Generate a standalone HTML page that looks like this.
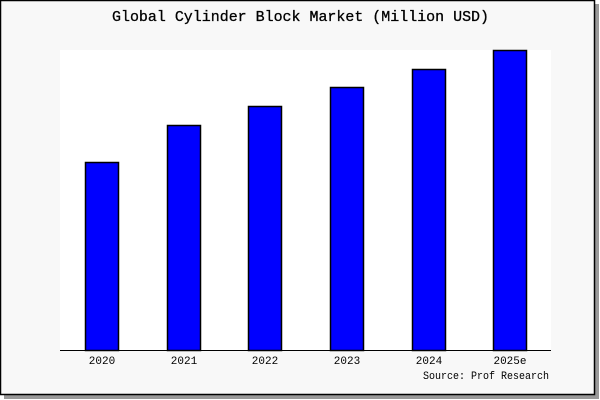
<!DOCTYPE html>
<html><head><style>
body{margin:0;background:#fff;}
svg{display:block;}
</style></head><body>
<svg width="600" height="400" xmlns="http://www.w3.org/2000/svg">
<rect x="0" y="0" width="600" height="400" fill="#fff"/>
<rect x="4" y="4" width="595" height="395" fill="#999"/>
<rect x="0.5" y="0.5" width="594" height="394" fill="#f8f8f8" stroke="#000" stroke-width="1.5"/>
<rect x="60" y="50" width="491" height="300" fill="#fff"/>
<text x="112" y="21" textLength="377" lengthAdjust="spacingAndGlyphs" font-family="Liberation Mono, monospace" font-size="15" fill="#000" stroke="#000" stroke-width="0.3">Global Cylinder Block Market (Million USD)</text>
<g fill="#0000ff" stroke="#000" stroke-width="1.5">
<rect x="85.5" y="162.5" width="33" height="188"/>
<rect x="167.5" y="125.5" width="33" height="225"/>
<rect x="248.5" y="106.5" width="33" height="244"/>
<rect x="330.5" y="87.5" width="33" height="263"/>
<rect x="412.5" y="69.5" width="33" height="281"/>
<rect x="493.5" y="50.5" width="33" height="300"/>
</g>
<line x1="60" y1="350.5" x2="551" y2="350.5" stroke="#000" stroke-width="1"/>
<g font-family="Liberation Mono, monospace" font-size="11" fill="#000" text-anchor="middle">
<text x="102" y="364">2020</text>
<text x="184" y="364">2021</text>
<text x="265" y="364">2022</text>
<text x="347" y="364">2023</text>
<text x="429" y="364">2024</text>
<text x="510" y="364">2025e</text>
<text x="423" y="379" text-anchor="start" textLength="126" lengthAdjust="spacingAndGlyphs">Source: Prof Research</text>
</g>
</svg>
</body></html>
